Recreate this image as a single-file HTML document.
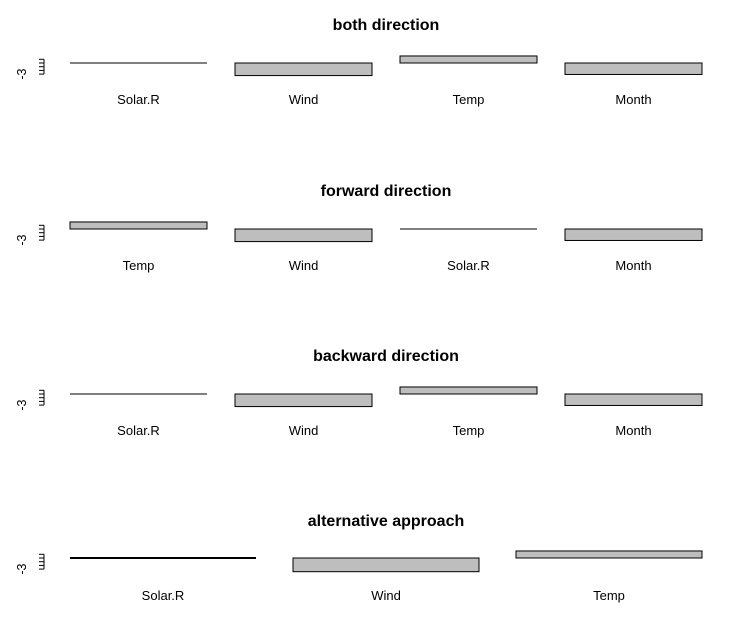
<!DOCTYPE html>
<html><head><meta charset="utf-8">
<style>
html,body{margin:0;padding:0;background:#fff;}
svg{display:block;font-family:"Liberation Sans",Arial,sans-serif;}
</style></head>
<body>
<svg id="chart" width="733" height="622" xmlns="http://www.w3.org/2000/svg"></svg>
<script>
const titles = ["both direction","forward direction","backward direction","alternative approach"];
const cats1 = ["Solar.R","Wind","Temp","Month"];
const vals1 = [0,-3.4,1.9,-3.1];
const cats2 = ["Temp","Wind","Solar.R","Month"];
const vals2 = [1.9,-3.4,0,-3.1];
const cats3 = ["Solar.R","Wind","Temp","Month"];
const vals3 = [0,-3.4,1.9,-3.1];
const cats4 = ["Solar.R","Wind","Temp"];
const vals4 = [0,-3.7,1.9];
const yTicks = [-3,-2,-1,0,1];
const yTickLabels = ["-3"];

const panels = [
  {title:titles[0],cats:cats1,vals:vals1,zero:63,titleY:30,labelY:104},
  {title:titles[1],cats:cats2,vals:vals2,zero:229,titleY:196,labelY:270},
  {title:titles[2],cats:cats3,vals:vals3,zero:394,titleY:361,labelY:435},
  {title:titles[3],cats:cats4,vals:vals4,zero:558,titleY:526,labelY:600}
];
const svg = document.getElementById('chart');
const NS = "http://www.w3.org/2000/svg";
const K = 3.7;
function mk(tag, attrs){const e=document.createElementNS(NS,tag);for(const k in attrs)e.setAttribute(k,attrs[k]);svg.appendChild(e);return e;}
const plotL = 70, plotR = 702;
panels.forEach((p,pi)=>{
  const y = v => p.zero - v*K;
  const t = mk('text',{x:386,y:p.titleY,'text-anchor':'middle','font-size':'16','font-weight':'bold',fill:'#000'});
  t.textContent = p.title;
  
  
  const ax = mk('line',{x1:44,x2:44,y1:y(yTicks[yTicks.length-1]),y2:y(yTicks[0]),stroke:'#000','stroke-width':1});
  
  
  yTicks.forEach(tv=>{
    const tk = mk('line',{x1:39,x2:44,y1:y(tv),y2:y(tv),stroke:'#000','stroke-width':1});
    
    
  });
  const ly = y(-3);
  const lb = mk('text',{x:0,y:0,transform:`translate(26,${ly}) rotate(-90)`,'text-anchor':'middle','font-size':'12.5',fill:'#000'});
  lb.textContent = yTickLabels[0];
  
  
  const n = p.cats.length;
  const gap = n===4?28:37;
  const slot = (plotR - plotL + gap) / n;
  const bw = slot - gap;
  p.cats.forEach((c,i)=>{
    const x0 = plotL + i*slot;
    const v = p.vals[i];
    const top = Math.min(y(v),y(0)), h = Math.abs(y(v)-y(0));
    let bar;
    if(h<0.5){
      bar = mk('line',{x1:x0,x2:x0+bw,y1:y(0),y2:y(0),stroke:'#000','stroke-width':n===4?1:2});
    } else {
      bar = mk('rect',{x:x0,y:top,width:bw,height:h,fill:'#bebebe',stroke:'#000','stroke-width':1});
    }
    
    
    const tl = mk('text',{x:x0+bw/2,y:p.labelY,'text-anchor':'middle','font-size':'13',fill:'#000'});
    tl.textContent = c;
    
    
  });
});
</script>
</body></html>
